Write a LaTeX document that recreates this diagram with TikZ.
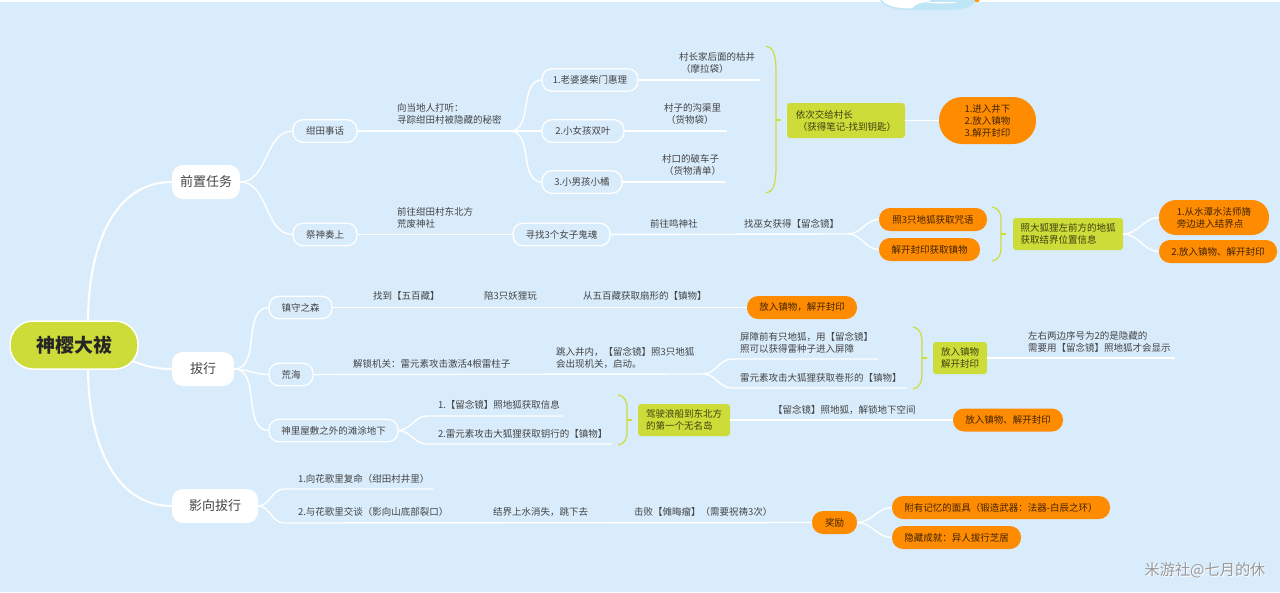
\documentclass[tikz,border=0pt]{standalone}
\usepackage{fontspec}
\setmainfont{Noto Sans CJK SC}
\definecolor{sheet}{HTML}{D9ECFC}
\definecolor{lime}{HTML}{CDDC39}
\definecolor{amber}{HTML}{FF8C00}
\definecolor{ink}{HTML}{444444}
\definecolor{swirl}{HTML}{BFE6F7}
\begin{document}
\begin{tikzpicture}
  [x=1pt, y=-1pt, font=\fontsize{9.5}{12}\selectfont, text=ink,
   every node/.style={inner sep=0pt, outer sep=0pt},
   core/.style={draw=white, line width=1.5pt, fill=lime, rounded corners=23pt, minimum width=128pt, minimum height=48pt, font=\fontsize{19}{22}\selectfont\bfseries, text=black!85},
   major/.style={fill=white, rounded corners=11pt, minimum height=34pt, font=\fontsize{13}{16}\selectfont},
   minor/.style={draw=white, line width=1.3pt, fill=sheet, rounded corners=10pt, minimum height=22.5pt},
   memo/.style={fill=lime, rounded corners=3pt, align=left, text=black!70!lime},
   prize/.style={fill=amber, rounded corners=11pt, minimum height=23pt, align=left, text=black!75!amber},
   note/.style={align=left, anchor=west},
   link/.style={draw=white, line width=1.4pt},
   trunk/.style={draw=white, line width=2pt},
   bracket/.style={draw=lime, line width=1.2pt}]
  \useasboundingbox (0,0) rectangle (1280,592);
  \fill[sheet] (0,0) rectangle (1280,592);
  \fill[white] (0,0) rectangle (1280,1.5);
  \fill[swirl] (880,0) .. controls (884,7) and (895,10) .. (908,10) -- (950,10) .. controls (965,10) and (974,6) .. (976,0) -- cycle;
  \fill[white] (882,0) .. controls (886,6) and (897,8.5) .. (912,8.5) .. controls (914,6) and (916,3) .. (930,1.5) -- (930,0) -- cycle;
  \fill[white] (925,2) -- (958,2) .. controls (950,4) and (935,4) .. (925,2) -- cycle;
  \fill[orange!80!yellow] (974.5,0) .. controls (975,3) and (979,3) .. (979.5,0) -- cycle;
  \node[core] (root) at (74,345) {神樱大祓};
  \node[major, minimum width=68pt] (pre) at (206,182) {前置任务};
  \node[major, minimum width=62pt] (purge) at (203,369) {拔行};
  \node[major, minimum width=86pt] (yogo) at (215,506) {影向拔行};
  \node[minor, minimum width=64pt] (kanda) at (325,131) {绀田事话};
  \node[minor, minimum width=64pt] (sacred) at (325,234.5) {祭神奏上};
  \node[minor, minimum width=63pt] (forest) at (300.5,307.5) {镇守之森};
  \node[minor, minimum width=44pt] (sea) at (291,374.5) {荒海};
  \node[minor, minimum width=129pt] (beach) at (333.5,430.5) {神里屋敷之外的滩涂地下};
  \node[minor, minimum width=96pt] (granny) at (590,80) {1.老婆婆柴门惠理};
  \node[minor, minimum width=82pt] (girl) at (583,131) {2.小女孩双叶};
  \node[minor, minimum width=80pt] (boy) at (582,182) {3.小男孩小橘};
  \node[minor, minimum width=97pt] (souls) at (561.5,234.5) {寻找3个女子鬼魂};

  \node[note] (askvillage) at (397,114) {向当地人打听：\\寻踪绀田村被隐藏的秘密};
  \node[note] (well) at (679,62.5) {村长家后面的枯井\\\ （摩拉袋）};
  \node[note] (ditch) at (664,114) {村子的沟渠里\\\ （货物袋）};
  \node[note] (cart) at (662,165) {村口的破车子\\\ （货物清单）};
  \node[note] (shrine) at (397,218) {前往绀田村东北方\\荒废神社};
  \node[note] (narukami) at (650,224) {前往鸣神社};
  \node[note] (miko) at (744,224) {找巫女获得【留念镜】};
  \node[note] (tanuki) at (373,296) {找到【五百藏】};
  \node[note] (play) at (484,296) {陪3只妖狸玩};
  \node[note] (fan) at (583,296) {从五百藏获取扇形的【镇物】};
  \node[note] (unlock) at (353,364) {解锁机关：雷元素攻击激活4根雷柱子};
  \node[note] (jump) at (556,357.5) {跳入井内，【留念镜】照3只地狐\\会出现机关，启动。};
  \node[note] (barrier) at (740,343) {屏障前有只地狐，用【留念镜】\\照可以获得雷种子进入屏障};
  \node[note] (scroll) at (740,378) {雷元素攻击大狐狸获取卷形的【镇物】};
  \node[note] (hidden) at (1028,342) {左右两边序号为2的是隐藏的\\需要用【留念镜】照地狐才会显示};
  \node[note] (info) at (438,405) {1.【留念镜】照地狐获取信息};
  \node[note] (key) at (438,434) {2.雷元素攻击大狐狸获取钥行的【镇物】};
  \node[note] (space) at (773,410) {【留念镜】照地狐，解锁地下空间};
  \node[note] (report) at (298,479) {1.向花歌里复命（绀田村井里）};
  \node[note] (talk) at (298,512) {2.与花歌里交谈（影向山底部裂口）};
  \node[note] (water) at (493,512) {结界上水消失，跳下去};
  \node[note] (boss) at (634,512) {击败【傩晦瘤】（需要祝祷3次）};

  \node[memo, minimum width=118pt, minimum height=35pt] (chief) at (846,120.5) {依次交给村长\\\ （获得笔记-找到钥匙）};
  \node[memo, minimum width=110pt, minimum height=32pt] (lfox) at (1068,234) {照大狐狸左前方的地狐\\获取结界位置信息};
  \node[memo, minimum width=54pt, minimum height=32pt, align=center] (place) at (960,358) {放入镇物\\解开封印};
  \node[memo, minimum width=92pt, minimum height=32pt] (boat) at (684,420) {驾驶浪船到东北方\\的第一个无名岛};

  \node[prize, minimum width=97pt, minimum height=47pt, rounded corners=23pt] (seal) at (987.5,120.5) {1.进入井下\\2.放入镇物\\3.解开封印};
  \node[prize, minimum width=108pt] (foxes) at (933,219.5) {照3只地狐获取咒语};
  \node[prize, minimum width=101pt] (opens) at (929.5,249.5) {解开封印获取镇物};
  \node[prize, minimum width=110pt, minimum height=35pt, rounded corners=17pt] (pond) at (1214,217.5) {1.从水潭水法师旖\\旁边进入结界点};
  \node[prize, minimum width=118pt] (put) at (1218,251.5) {2.放入镇物、解开封印};
  \node[prize, minimum width=110pt] (putforest) at (802,307.5) {放入镇物，解开封印};
  \node[prize, minimum width=110pt] (putspace) at (1008,420) {放入镇物、解开封印};
  \node[prize, minimum width=45pt] (reward) at (834.5,522.5) {奖励};
  \node[prize, minimum width=218pt] (mask) at (1001,507.5) {附有记忆的面具（锻造武器：法器-白辰之环）};
  \node[prize, minimum width=129pt] (feat) at (956.5,537.5) {隐藏成就：异人拔行芝居};

  \node[font=\fontsize{15.2}{17}\selectfont, text=white] (markshade) at (1206,571) {米游社@七月的休};
  \node[font=\fontsize{15.2}{17}\selectfont, text=black!40] (mark) at (1205,570) {米游社@七月的休};

  \coordinate (wellend) at (760,80);
  \coordinate (ditchend) at (727,131);
  \coordinate (cartend) at (725,182);
  \coordinate (forkkanda) at (510,131);
  \coordinate (forkmiko) at (848,234);
  \coordinate (forksea) at (703,374);
  \coordinate (barrierin) at (732,359);
  \coordinate (barrierend) at (878,359);
  \coordinate (scrollin) at (732,388);
  \coordinate (scrollend) at (907,388);
  \coordinate (hiddenend) at (1175,358);
  \coordinate (infoin) at (427,416);
  \coordinate (infoend) at (563,416);
  \coordinate (keyin) at (427,444);
  \coordinate (keyend) at (612,444);
  \coordinate (reportin) at (284,489);
  \coordinate (reportend) at (433,489);
  \coordinate (talkin) at (284,523);

  \draw[trunk] (root.north east) ++(-50,0) to[out=90,in=180] (pre.west);
  \draw[trunk] (root.south east) ++(-50,0) to[out=-90,in=180] (yogo.west);
  \draw[trunk] (root.east) ++(-6,16) to[out=-20,in=180] (purge.west);
  \draw[link] (pre.east) to[out=0,in=180] (kanda.west);
  \draw[link] (pre.east) to[out=0,in=180] (sacred.west);
  \draw[link] (purge.east) to[out=0,in=180] (forest.west);
  \draw[link] (purge.east) to[out=0,in=180] (sea.west);
  \draw[link] (purge.east) to[out=0,in=180] (beach.west);
  \draw[link] (kanda) -- (forkkanda);
  \draw[link] (forkkanda) to[out=0,in=180] (granny.west);
  \draw[link] (forkkanda) -- (girl.west);
  \draw[link] (forkkanda) to[out=0,in=180] (boy.west);
  \draw[link] (granny) -- (wellend);
  \draw[link] (girl) -- (ditchend);
  \draw[link] (boy) -- (cartend);
  \draw[link] (sacred) -- (souls);
  \draw[link] (souls) -- (forkmiko);
  \draw[link] (forkmiko) to[out=0,in=180] (foxes.west);
  \draw[link] (forkmiko) to[out=0,in=180] (opens.west);
  \draw[link] (chief) -- (seal);
  \draw[link] (lfox.east) to[out=0,in=180] (pond.west);
  \draw[link] (lfox.east) to[out=0,in=180] (put.west);
  \draw[link] (forest) -- (putforest);
  \draw[link] (sea) -- (forksea);
  \draw[link] (forksea) to[out=0,in=180] (barrierin) -- (barrierend);
  \draw[link] (forksea) to[out=0,in=180] (scrollin) -- (scrollend);
  \draw[link] (place) -- (hiddenend);
  \draw[link] (beach.east) to[out=0,in=180] (infoin) -- (infoend);
  \draw[link] (beach.east) to[out=0,in=180] (keyin) -- (keyend);
  \draw[link] (boat) -- (putspace);
  \draw[link] (yogo.east) to[out=0,in=180] (reportin) -- (reportend);
  \draw[link] (yogo.east) to[out=0,in=180] (talkin) -- (reward.west);
  \draw[link] (reward.east) to[out=0,in=180] (mask.west);
  \draw[link] (reward.east) to[out=0,in=180] (feat.west);

  \draw[bracket] (766,46) .. controls (773,47) and (776,54) .. (776,72) -- (776,167) .. controls (776,185) and (773,192) .. (766,193);
  \draw[bracket] (776,120) -- (781,120);
  \draw[bracket] (992,207) .. controls (998,208) and (1001,212) .. (1001,220) -- (1001,248) .. controls (1001,256) and (998,260) .. (992,261);
  \draw[bracket] (1001,234) -- (1006,234);
  \draw[bracket] (913,327) .. controls (919,328) and (922,333) .. (922,343) -- (922,373) .. controls (922,383) and (919,388) .. (913,389);
  \draw[bracket] (922,358) -- (927,358);
  \draw[bracket] (618,395) .. controls (624,396) and (627,400) .. (627,408) -- (627,432) .. controls (627,440) and (624,444) .. (618,445);
  \draw[bracket] (627,420) -- (632,420);
\end{tikzpicture}
\end{document}
